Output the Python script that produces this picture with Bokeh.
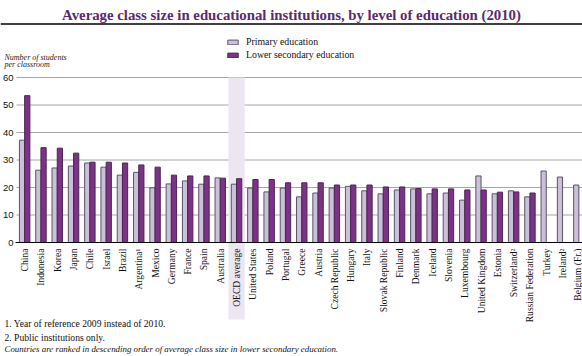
import math
from bokeh.plotting import figure
from bokeh.models import (ColumnDataSource, FixedTicker, Label, BoxAnnotation,
                          Legend, LegendItem, LinearAxis)
from bokeh.transform import dodge
from bokeh.embed import file_html
from bokeh.resources import INLINE

# ---------------- data ----------------
countries = ["China", "Indonesia", "Korea", "Japan", "Chile", "Israel", "Brazil",
             "Argentina\u00b9", "Mexico", "Germany", "France", "Spain", "Australia",
             "OECD average", "United States", "Poland", "Portugal", "Greece", "Austria",
             "Czech Republic", "Hungary", "Italy", "Slovak Republic", "Finland",
             "Denmark", "Iceland", "Slovenia", "Luxembourg", "United Kingdom",
             "Estonia", "Switzerland\u00b2", "Russian Federation", "Turkey",
             "Ireland\u00b2", "Belgium (Fr.)"]
primary = [37.2, 26.3, 27.1, 27.8, 28.9, 27.4, 24.5, 25.5, 19.9, 21.3, 22.4, 21.2,
           23.5, 21.2, 19.8, 18.4, 19.8, 16.6, 18.0, 19.8, 20.4, 18.8, 17.7, 19.1,
           19.5, 17.7, 18.0, 15.4, 24.2, 17.7, 18.8, 16.6, 26.0, 23.8, 20.9]
lower_secondary = [53.4, 34.5, 34.3, 32.5, 29.2, 29.2, 28.9, 28.2, 27.4, 24.5, 24.2,
                   24.2, 23.4, 23.2, 22.9, 22.9, 21.7, 21.7, 21.7, 20.9, 20.9, 20.9,
                   20.2, 20.2, 19.6, 19.5, 19.5, 19.1, 19.1, 18.3, 18.4, 18.0,
                   float("nan"), float("nan"), float("nan")]
y_ticks = [0, 10, 20, 30, 40, 50, 60]
highlight = "OECD average"

title_text = "Average class size in educational institutions, by level of education (2010)"
y_title = ["Number of students", "per classroom"]
notes = ["1. Year of reference 2009 instead of 2010.",
         "2. Public institutions only."]
ranking_note = "Countries are ranked in descending order of average class size in lower secondary education."

# ---------------- layout constants (pixels of the 582x356 canvas) ----------------
W, H = 582, 356
AX_LEFT = 16        # canvas x of the left edge of the first category
AX_BASE = 242       # canvas y of value 0
AX_TOP = 77         # canvas y of value 60
CAT_PX = 16.3       # pixels per category
YPX = (AX_BASE - AX_TOP) / 60.0


def dx(px):
    return -0.5 + (px - AX_LEFT) / CAT_PX


def dy(py):
    return (AX_BASE - py) / YPX


PRIM_FILL = "#cbbfdb"
PRIM_LINE = "#5a5563"
SEC_FILL = "#7b3384"
SEC_LINE = "#4e2256"
TITLE_COL = "#5a2a6c"
SERIF = "Liberation Serif"

idx = list(range(len(countries)))
src = ColumnDataSource(dict(idx=idx, country=countries, primary=primary,
                            lower=lower_secondary))

p = figure(width=W, height=H, output_backend="svg", toolbar_location=None,
           x_range=(dx(0), dx(W)), y_range=(dy(H), dy(0)),
           x_axis_location=None, y_axis_location=None,
           min_border=0, min_border_left=0, min_border_right=0,
           min_border_top=0, min_border_bottom=0)
p.outline_line_color = None
p.background_fill_color = "white"
p.border_fill_color = "white"
p.xgrid.visible = False
p.ygrid.visible = False

# OECD highlight band
hi = countries.index(highlight)
p.add_layout(BoxAnnotation(left=hi - 0.5, right=hi + 0.5, top=y_ticks[-1], bottom=dy(319),
                           fill_color="#ece6f1", fill_alpha=1.0, line_color=None,
                           level="underlay"))

# horizontal gridlines from the tick values
grid_src = ColumnDataSource(dict(y=y_ticks[1:]))
p.segment(x0=-0.5, x1=dx(W), y0="y", y1="y", source=grid_src,
          line_color="#a6a6a6", line_width=1, level="underlay")

r1 = p.vbar(x=dodge("idx", -0.16, range=p.x_range), top="primary", width=0.32,
            source=src, fill_color=PRIM_FILL, line_color=PRIM_LINE, line_width=1)
r2 = p.vbar(x=dodge("idx", 0.16, range=p.x_range), top="lower", width=0.32,
            source=src, fill_color=SEC_FILL, line_color=SEC_LINE, line_width=1)

# axes drawn at fixed locations inside the frame
xaxis = LinearAxis(fixed_location=0, bounds=(-0.56, dx(W)))
xaxis.ticker = FixedTicker(ticks=idx)
xaxis.major_label_overrides = {i: c for i, c in enumerate(countries)}
xaxis.major_label_orientation = math.pi / 2
xaxis.major_label_text_font = SERIF
xaxis.major_label_text_font_size = "9.6px"
xaxis.major_label_text_color = "#111111"
xaxis.major_label_standoff = 6
xaxis.major_tick_out = 0
xaxis.major_tick_in = 0
xaxis.minor_tick_out = 0
xaxis.minor_tick_in = 0
xaxis.axis_line_color = "black"
xaxis.axis_line_width = 1.2
p.add_layout(xaxis, "below")

yaxis = LinearAxis(fixed_location=-0.5, bounds=(0, 60))
yaxis.ticker = FixedTicker(ticks=y_ticks)
yaxis.axis_line_color = None
yaxis.major_tick_out = 0
yaxis.major_tick_in = 0
yaxis.minor_tick_out = 0
yaxis.minor_tick_in = 0
yaxis.major_label_text_font = "Liberation Sans"
yaxis.major_label_text_font_size = "9.5px"
yaxis.major_label_text_color = "#111111"
yaxis.major_label_standoff = 3
p.add_layout(yaxis, "left")

# legend (location is relative to the bottom-left of the frame)
legend = Legend(items=[LegendItem(label="Primary education", renderers=[r1]),
                       LegendItem(label="Lower secondary education", renderers=[r2])],
                location=(226, H - 60), orientation="vertical",
                padding=0, margin=0, spacing=2,
                glyph_width=13, glyph_height=6, label_height=10,
                label_standoff=7,
                label_text_font=SERIF, label_text_font_size="9.8px",
                label_text_color="#111111",
                border_line_color=None, background_fill_alpha=0)
p.add_layout(legend)

# title and rule
p.add_layout(Label(x=dx(W / 2), y=dy(14), text=title_text, text_align="center",
                   text_baseline="middle", text_font=SERIF, text_font_style="bold",
                   text_font_size="14.8px", text_color=TITLE_COL))
p.add_layout(BoxAnnotation(top=dy(22.8), bottom=dy(24.3),
                           fill_color="black", fill_alpha=1.0, line_color=None))

# y axis title
for i, t in enumerate(y_title):
    p.add_layout(Label(x=dx(4), y=dy(57 + 7 * i), text=t, text_align="left",
                       text_baseline="middle", text_font=SERIF,
                       text_font_style="italic", text_font_size="8px",
                       text_color="#222222"))

# footnotes
for i, t in enumerate(notes):
    p.add_layout(Label(x=dx(4), y=dy(323 + 14 * i), text=t, text_align="left",
                   text_baseline="middle", text_font=SERIF,
                   text_font_size="9.6px", text_color="#111111"))
p.add_layout(Label(x=dx(4), y=dy(348), text=ranking_note, text_align="left",
                   text_baseline="middle", text_font=SERIF, text_font_style="italic",
                   text_font_size="8.9px", text_color="#111111"))

open("out.html", "w").write(file_html(p, INLINE))
